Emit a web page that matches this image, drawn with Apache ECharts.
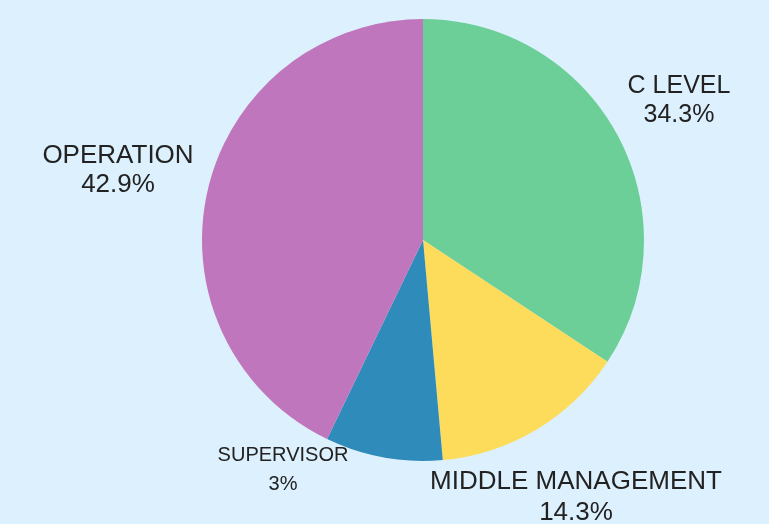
<!DOCTYPE html>
<html>
<head>
<meta charset="utf-8">
<script src="https://cdn.jsdelivr.net/npm/echarts@6/dist/echarts.min.js"></script>
<style>
  html, body { margin: 0; padding: 0; background: #ddf0fd; }
  #chart { width: 769px; height: 524px; }
</style>
</head>
<body>
<div id="chart"></div>
<script>
const categories = ['C LEVEL', 'MIDDLE MANAGEMENT', 'SUPERVISOR', 'OPERATION'];
const counts = [12, 5, 3, 15];
const percentLabels = ['34.3%', '14.3%', '3%', '42.9%'];
const colors = ['#6ccf98', '#fddc5c', '#2e8bba', '#bf76bd'];

// label anchor points (centre of each text block)
const labelAnchors = [[679, 101], [576, 497], [283, 470], [118, 170]];
const labelSizes = [25, 26, 20, 26];
const labelLineHeights = [29, 31, 29, 29];

const chart = echarts.init(document.getElementById('chart'), null, { renderer: 'canvas' });

chart.setOption({
  backgroundColor: '#ddf0fd',
  animation: false,
  series: [
    {
      type: 'pie',
      center: [423, 240],
      radius: [0, 221],
      startAngle: 90,
      clockwise: true,
      data: categories.map((name, i) => ({
        name,
        value: counts[i],
        itemStyle: { color: colors[i] },
        label: { fontSize: labelSizes[i], lineHeight: labelLineHeights[i] },
      })),
      label: {
        show: true,
        position: 'outside',
        color: '#222',
        overflow: 'none',
        fontFamily: '"Liberation Sans", Arial, sans-serif',
        formatter: (p) => p.name + '\n' + percentLabels[p.dataIndex],
      },
      labelLine: { show: false },
      labelLayout: (params) => ({
        x: labelAnchors[params.dataIndex][0],
        y: labelAnchors[params.dataIndex][1],
        align: 'center',
        verticalAlign: 'middle',
      }),
    },
  ],
});
</script>
</body>
</html>
